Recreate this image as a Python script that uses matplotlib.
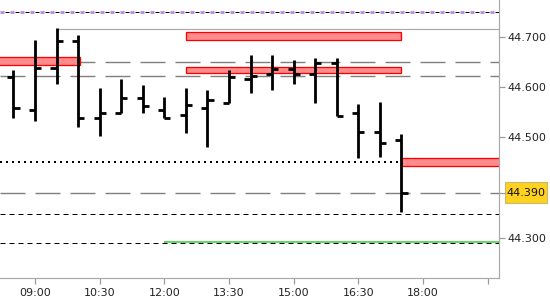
import numpy as np
import matplotlib
matplotlib.use("Agg")
import matplotlib.pyplot as plt
from matplotlib.patches import Rectangle

# bar times in minutes after midnight, 30-minute bars from 08:30 to 17:30
times = [510, 540, 570, 600, 630, 660, 690, 720, 750, 780,
         810, 840, 870, 900, 930, 960, 990, 1020, 1050]
opens = [44.621, 44.555, 44.637, 44.691, 44.539, 44.549, 44.579, 44.555, 44.544, 44.559,
         44.569, 44.616, 44.627, 44.636, 44.627, 44.647, 44.549, 44.510, 44.495]
highs = [44.634, 44.693, 44.717, 44.703, 44.598, 44.617, 44.604, 44.580, 44.598, 44.594,
         44.634, 44.664, 44.664, 44.654, 44.657, 44.657, 44.566, 44.570, 44.507]
lows = [44.538, 44.532, 44.606, 44.521, 44.502, 44.549, 44.548, 44.539, 44.508, 44.482,
        44.569, 44.589, 44.594, 44.606, 44.568, 44.543, 44.459, 44.462, 44.353]
closes = [44.559, 44.637, 44.691, 44.539, 44.549, 44.578, 44.563, 44.539, 44.564, 44.574,
          44.621, 44.622, 44.636, 44.627, 44.647, 44.543, 44.510, 44.490, 44.390]

# zones: (start, end, low, high)
zones = [(480, 603, 44.644, 44.660),
         (750, 1050, 44.694, 44.709),
         (750, 1050, 44.629, 44.640),
         (1050, 1200, 44.444, 44.459)]

purple_level = 44.749
day_high = 44.716
gray_dashed = [44.649, 44.623, 44.390]
dotted_level = 44.452
black_dashed = [44.348, 44.291]
green_level = 44.292
last_price = 44.390

tick_times = [540, 630, 720, 810, 900, 990, 1080, 1170]
tick_labels = ["09:00", "10:30", "12:00", "13:30", "15:00", "16:30", "18:00", ""]
price_ticks = [44.3, 44.5, 44.6, 44.7]

XMIN, XMAX = 491.3, 1185.8
YMIN, YMAX = 44.221, 44.773
PX = 0.72  # one pixel in points at dpi 100

plt.rcParams["lines.scale_dashes"] = False

fig = plt.figure(figsize=(5.5, 3.0), dpi=100)
ax = fig.add_axes([0, 22 / 300, 499 / 550, 278 / 300])
ax.set_xlim(XMIN, XMAX)
ax.set_ylim(YMIN, YMAX)

# horizontal levels
ax.axhline(purple_level, color="#c090e0", lw=3 * PX, ls=(0, (4 * PX, 6 * PX)))
ax.axhline(purple_level, color="black", lw=1 * PX, ls=(5 * PX, (4 * PX, 6 * PX)))
ax.hlines(day_high, 570, XMAX, color="#aaaaaa", lw=1.2 * PX)
for lvl in gray_dashed:
    ax.axhline(lvl, color="#808080", lw=1.4 * PX, ls=(0, (25 * PX, 10 * PX)))
ax.axhline(dotted_level, color="black", lw=2 * PX, ls=(0, (2 * PX, 4 * PX)))
for lvl in black_dashed:
    ax.axhline(lvl, color="black", lw=1 * PX, ls=(0, (5 * PX, 4 * PX)))
ax.hlines(green_level, 720, XMAX, color="#33cc33", lw=1.5 * PX, zorder=3)

# supply / demand zones
for x0, x1, y0, y1 in zones:
    ax.add_patch(Rectangle((x0, y0), x1 - x0, y1 - y0, facecolor="#ff8c8c",
                           edgecolor="red", lw=1.3 * PX, zorder=2))

# OHLC bars
t = np.array(times)
ax.vlines(t, lows, highs, color="black", lw=2.8 * PX, zorder=4)
ax.hlines(opens, t - 8.5, t, color="black", lw=2.8 * PX, zorder=4)
ax.hlines(closes, t, t + 8.5, color="black", lw=2.8 * PX, zorder=4)

# axes styling
for side in ["left", "top"]:
    ax.spines[side].set_visible(False)
for side in ["right", "bottom"]:
    ax.spines[side].set_color("#aaaaaa")
    ax.spines[side].set_linewidth(1.2 * PX)

ax.set_xticks(tick_times)
ax.set_xticklabels(tick_labels)
ax.yaxis.tick_right()
ax.set_yticks(price_ticks)
ax.set_yticklabels([f"{p:.3f}" for p in price_ticks])
ax.tick_params(axis="both", colors="#999999", labelcolor="#222222",
               labelsize=8, length=4, width=1.2 * PX)
ax.tick_params(axis="y", pad=2)
ax.tick_params(axis="x", pad=3)

# last-price marker on the price scale
ytrans = ax.get_yaxis_transform()
half = 10.5 / 504
ax.add_patch(Rectangle((1.012, last_price - half), 0.084, 2 * half,
                       transform=ytrans, facecolor="#ffd21f", edgecolor="#c8b870",
                       lw=0.8, clip_on=False, zorder=9))
ax.plot([1.0, 1.012], [last_price, last_price], transform=ytrans,
        color="#999999", lw=1.2 * PX, clip_on=False, zorder=9)
ax.text(1.054, last_price, f"{last_price:.3f}", transform=ytrans,
        ha="center", va="center", fontsize=8, color="#111111", zorder=10)

fig.savefig("out.png", dpi=100)
